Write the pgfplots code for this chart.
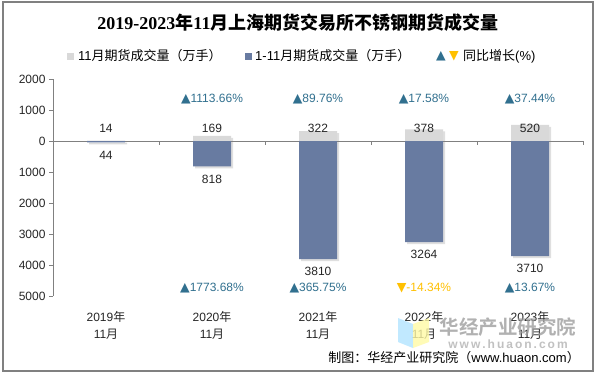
\documentclass[border=0pt]{standalone}
\usepackage{fontspec}
\usepackage{pgfplots}
\pgfplotsset{compat=1.18}
\usetikzlibrary{shadows}
\setmainfont{Liberation Sans}
\newfontfamily\cjk{Noto Sans CJK SC}
\newfontfamily\cjkb{Noto Sans CJK SC Bold}
\newfontfamily\sym{DejaVu Sans}
\newfontfamily\tnum{Liberation Serif}
\definecolor{barG}{HTML}{D9D9D9}
\definecolor{barB}{HTML}{687BA1}
\definecolor{upC}{HTML}{31708F}
\definecolor{dnC}{HTML}{FFC000}
\definecolor{frameC}{HTML}{808080}
\newcommand\up{{\sym\fontsize{12.5bp}{14bp}\selectfont ▲}}
\newcommand\dn{{\sym\fontsize{12.5bp}{14bp}\selectfont ▼}}
\newcommand\tlab[1]{#1{\cjk 年}\\11{\cjk 月}}
\newcommand\fs{\fontsize{12bp}{17bp}\selectfont}
\begin{document}
\begin{tikzpicture}[x=1bp,y=1bp]
\useasboundingbox (0,0) rectangle (597,374);
\fill[white] (0,0) rectangle (597,374);
\draw[frameC, line width=1.2bp] (3,3) rectangle (593,372);
% title
\node at (298,351) {\fontsize{18bp}{20bp}\selectfont\bfseries\tnum 2019-2023{\cjkb 年}11{\cjkb 月上海期货交易所不锈钢期货成交量}};
% legend
\fill[barG] (66.5,314.5) rectangle (73.5,321.5);
\node[anchor=west, inner sep=0] at (78,318) {\fontsize{13bp}{15bp}\selectfont 11{\cjk 月期货成交量（万手）}};
\fill[barB] (244.5,314.5) rectangle (251.5,321.5);
\node[anchor=west, inner sep=0] at (255,318) {\fontsize{13bp}{15bp}\selectfont 1-11{\cjk 月期货成交量（万手）}};
\node[anchor=west, inner sep=0, text=upC] at (436,318) {\up};
\node[anchor=west, inner sep=0, text=dnC] at (449,318) {\dn};
\node[anchor=west, inner sep=0] at (463,318) {\fontsize{13bp}{15bp}\selectfont{\cjk 同比增长}(\%)};
\begin{axis}[
  at={(53bp,78bp)}, anchor=south west, scale only axis,
  width=530bp, height=217bp,
  xmin=-0.5, xmax=4.5, ymin=-5000, ymax=2000,
  axis y line*=left, axis x line*=bottom,
  x axis line style={draw=none},
  y axis line style={draw=frameC, line width=0.9bp},
  ytick={-5000,-4000,...,2000},
  yticklabels={5000,4000,3000,2000,1000,0,1000,2000},
  ytick style={draw=frameC, line width=0.9bp},
  tick align=outside, major tick length=4bp,
  xtick={0,...,4},
  xticklabels={{\tlab{2019}},{\tlab{2020}},{\tlab{2021}},{\tlab{2022}},{\tlab{2023}}},
  xtick style={draw=none},
  xticklabel style={align=center, font=\fs, text=black!85, yshift=-8bp},
  yticklabel style={font=\fs, text=black!85},
  clip=false,
]
\draw[frameC, line width=0.9bp] (axis cs:-0.5,0) -- (axis cs:4.5,0);
\pgfplotsinvokeforeach{0.5,1.5,2.5,3.5,4.5}{\draw[frameC, line width=0.9bp] (axis cs:#1,0) -- (axis cs:#1,-130);}
\addplot[ybar, bar width=38bp, bar shift=0pt, fill=barG, draw=none,
  drop shadow={shadow xshift=2bp, shadow yshift=-2bp, opacity=0.25}]
  coordinates {(0,14) (1,169) (2,322) (3,378) (4,520)};
\addplot[ybar, bar width=38bp, bar shift=0pt, fill=barB, draw=none,
  drop shadow={shadow xshift=2bp, shadow yshift=-2bp, opacity=0.25}]
  coordinates {(0,-44) (1,-818) (2,-3810) (3,-3264) (4,-3710)};
% value labels
\addplot[only marks, mark=*, mark size=0pt, mark options={draw=none,fill=none},
  nodes near coords, point meta=explicit symbolic,
  nodes near coords style={anchor=center, font=\fs, text=black!85}]
  coordinates {(0,420)[14] (1,420)[169] (2,420)[322] (3,420)[378] (4,420)[520]};
\addplot[only marks, mark=*, mark size=0pt, mark options={draw=none,fill=none},
  nodes near coords, point meta=explicit symbolic,
  nodes near coords style={anchor=center, font=\fs, text=black!85}]
  coordinates {(0,-450)[44] (1,-1225)[818] (2,-4220)[3810] (3,-3670)[3264] (4,-4120)[3710]};
% growth labels
\addplot[only marks, mark=*, mark size=0pt, mark options={draw=none,fill=none},
  nodes near coords, point meta=explicit symbolic,
  nodes near coords style={anchor=center, font=\fs, text=upC}]
  coordinates {(1,1355)[\up 1113.66\%] (2,1355)[\up 89.76\%] (3,1355)[\up 17.58\%] (4,1355)[\up 37.44\%]};
\addplot[only marks, mark=*, mark size=0pt, mark options={draw=none,fill=none},
  nodes near coords, point meta=explicit symbolic,
  nodes near coords style={anchor=center, font=\fs, text=upC}]
  coordinates {(1,-4740)[\up 1773.68\%] (2,-4740)[\up 365.75\%] (4,-4740)[\up 13.67\%]};
\addplot[only marks, mark=*, mark size=0pt, mark options={draw=none,fill=none},
  nodes near coords, point meta=explicit symbolic,
  nodes near coords style={anchor=center, font=\fs, text=dnC}]
  coordinates {(3,-4740)[\dn -14.34\%]};
\end{axis}
% watermark
\fill[blue!35!cyan!30, opacity=0.8] (398,56) -- (413,50) -- (413,26) -- (398,32) -- cycle;
\fill[yellow!35, opacity=0.8] (413,50) -- (429,56) -- (429,32) -- (413,26) -- cycle;
\node[text=black!38, opacity=0.8] at (508,47) {\fontsize{19.5bp}{22bp}\selectfont\cjkb 华经产业研究院};
\node[text=black!30, opacity=0.8, inner sep=0] at (508,30) {\fontsize{12bp}{13bp}\selectfont\bfseries w\,w\,w\,.\,h\,u\,a\,o\,n\,.\,c\,o\,m};
% footer
\node[anchor=east, inner sep=0] at (580,16) {\fontsize{13bp}{15bp}\selectfont{\cjk 制图：华经产业研究院（}www.huaon.com{\cjk ）}};
\end{tikzpicture}
\end{document}
